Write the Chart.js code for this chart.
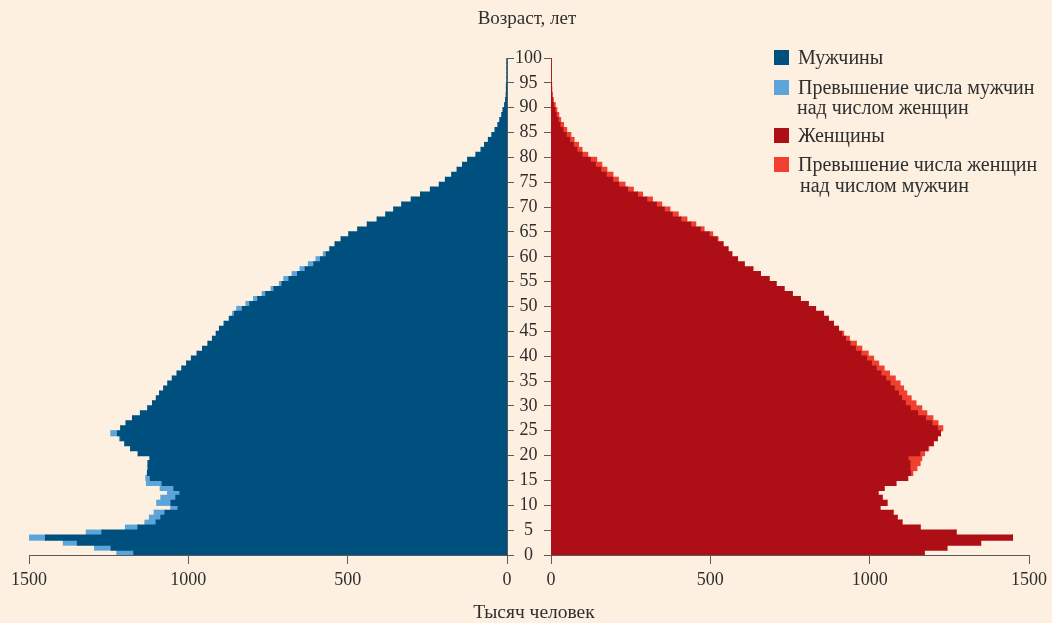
<!DOCTYPE html>
<html><head><meta charset="utf-8">
<script src="https://cdn.jsdelivr.net/npm/chart.js@4.4.0/dist/chart.umd.min.js"></script>
<style>
body{margin:0;background:#fdf0e1;}
#wrap{position:relative;width:1052px;height:623px;background:#fdf0e1;font-family:"Liberation Serif",serif;color:#2e2e2e;overflow:hidden}
canvas{position:absolute;top:0}
#cl{left:0}
#cr{left:507px}
.t{position:absolute;font-size:20px;line-height:22px;white-space:nowrap}
.sw{position:absolute;width:15px;height:15px}
</style></head><body>
<div id="wrap">
<canvas id="cl" width="551" height="623"></canvas>
<canvas id="cr" width="545" height="623"></canvas>
<div class="t" style="left:427px;width:200px;text-align:center;top:7px;font-size:19px">Возраст, лет</div>
<div class="t" style="left:434px;width:200px;text-align:center;top:601px;font-size:19.5px">Тысяч человек</div>
<div class="sw" style="left:774px;top:50px;background:#00507f"></div>
<div class="t" style="left:798px;top:46px">Мужчины</div>
<div class="sw" style="left:774px;top:80px;background:#5ca4da"></div>
<div class="t" style="left:798px;top:76px">Превышение числа мужчин</div>
<div class="t" style="left:797px;top:96px">над числом женщин</div>
<div class="sw" style="left:774px;top:128px;background:#ae0e16"></div>
<div class="t" style="left:798px;top:124px">Женщины</div>
<div class="sw" style="left:774px;top:157px;background:#ef4030"></div>
<div class="t" style="left:798px;top:153px">Превышение числа женщин</div>
<div class="t" style="left:800px;top:174px">над числом мужчин</div>
</div>
<script>
const ages = [0,1,2,3,4,5,6,7,8,9,10,11,12,13,14,15,16,17,18,19,20,21,22,23,24,25,26,27,28,29,30,31,32,33,34,35,36,37,38,39,40,41,42,43,44,45,46,47,48,49,50,51,52,53,54,55,56,57,58,59,60,61,62,63,64,65,66,67,68,69,70,71,72,73,74,75,76,77,78,79,80,81,82,83,84,85,86,87,88,89,90,91,92,93,94,95,96,97,98,99];
const maleValues = [1224,1294,1392,1498,1320,1197,1136,1122,1107,1055,1099,1086,1065,1088,1131,1133,1128,1126,1126,1120,1157,1181,1199,1216,1243,1212,1195,1175,1150,1127,1112,1100,1090,1077,1064,1050,1035,1020,1005,990,972,955,938,924,912,902,889,872,861,848,819,795,768,740,714,700,674,649,623,599,576,557,539,520,496,468,438,407,380,355,330,300,271,240,212,193,173,156,139,123,97,81,70,58,47,37,28,22,16,12,7,4,2,1,0.5,0,0,0,0,0];
const femaleValues = [1171,1242,1348,1448,1271,1158,1101,1086,1073,1032,1054,1039,1026,1045,1082,1119,1135,1148,1158,1163,1172,1185,1200,1212,1222,1229,1214,1198,1179,1163,1145,1130,1116,1106,1095,1080,1062,1045,1028,1012,995,975,958,936,918,902,886,870,855,830,807,782,757,731,706,684,657,633,606,585,567,555,540,524,507,480,454,426,399,373,347,318,287,258,232,211,194,175,159,143,115,97,86,72,62,49,39,30,24,18,13,7,4,2,1,0,0,0,0,0];
const ageTicks = [0,5,10,15,20,25,30,35,40,45,50,55,60,65,70,75,80,85,90,95,100];
const valueTicks = [0,500,1000,1500];

const C = {maleDark:'#00507f', maleLight:'#5ca4da', femDark:'#ae0e16', femLight:'#ef4030', axis:'#5a5a5a', text:'#2e2e2e'};
const FONT = {family:'"Liberation Serif", serif', size:18};

const maleBase = ages.map((a,i)=>({x:Math.min(maleValues[i],femaleValues[i]), y:a+0.5}));
const maleExcess = ages.map((a,i)=>({x:Math.max(maleValues[i]-femaleValues[i],0), y:a+0.5}));
const femBase = ages.map((a,i)=>({x:Math.min(maleValues[i],femaleValues[i]), y:a+0.5}));
const femExcess = ages.map((a,i)=>({x:Math.max(femaleValues[i]-maleValues[i],0), y:a+0.5}));

function makeChart(id, datasets, left){
  return new Chart(document.getElementById(id), {
    type:'bar',
    data:{datasets},
    options:{
      indexAxis:'y', responsive:false, animation:false, devicePixelRatio:1,
      layout:{padding:{left:left?29:0, right:left?0:23, top:58, bottom:0}},
      plugins:{legend:{display:false}, tooltip:{enabled:false}},
      datasets:{bar:{barPercentage:1, categoryPercentage:1, borderWidth:0, inflateAmount:0.6}},
      scales:{
        x:{type:'linear', reverse:left, min:0, max:1500, stacked:true,
          afterBuildTicks:s=>{s.ticks=valueTicks.map(v=>({value:v}));},
          afterFit:s=>{s.height=68;},
          grid:{drawOnChartArea:false, drawTicks:true, tickLength:9, color:C.axis},
          border:{display:true, color:C.axis, width:1},
          ticks:{font:FONT, color:C.text, padding:5, maxRotation:0, autoSkip:false, callback:v=>String(v)}},
        y:{type:'linear', position:left?'right':'left', min:0, max:100, stacked:true, offset:false,
          afterBuildTicks:s=>{s.ticks=ageTicks.map(v=>({value:v}));},
          afterFit:s=>{s.width=44;},
          grid:{drawOnChartArea:false, drawTicks:true, tickLength:7, color:C.axis, offset:false},
          border:{display:true, color:C.axis, width:1},
          ticks:{display:left, crossAlign:'center', padding:1, font:FONT, color:C.text, autoSkip:false, callback:v=>String(v)}}
      }
    }
  });
}

makeChart('cl', [
  {label:'Мужчины', data:maleBase, backgroundColor:C.maleDark},
  {label:'Превышение числа мужчин над числом женщин', data:maleExcess, backgroundColor:C.maleLight}
], true);
makeChart('cr', [
  {label:'Женщины', data:femBase, backgroundColor:C.femDark},
  {label:'Превышение числа женщин над числом мужчин', data:femExcess, backgroundColor:C.femLight}
], false);
</script>
</body></html>
